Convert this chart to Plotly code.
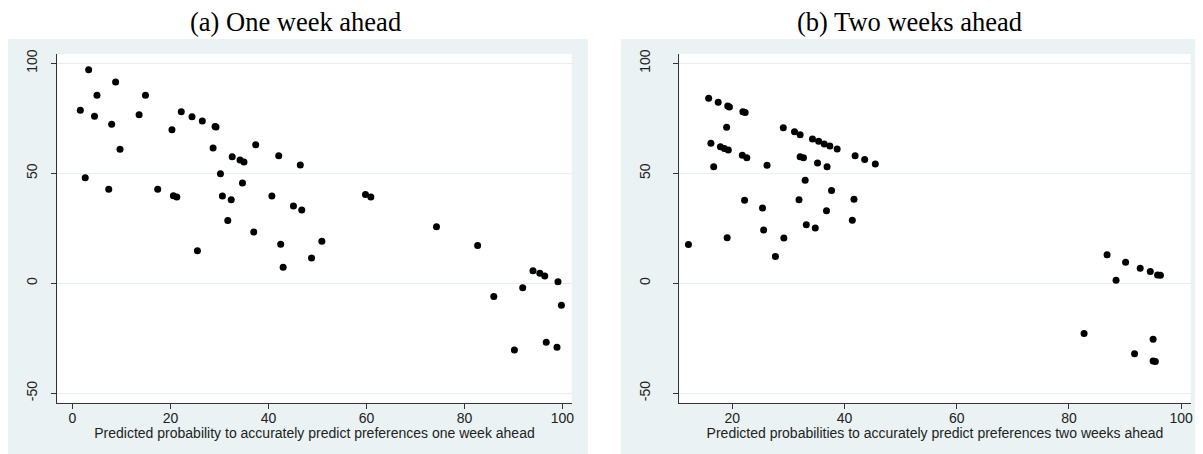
import plotly.graph_objects as go

# ---- data ----
one_week_prob = [1.6, 3.3, 5.0, 4.5, 2.6, 8.8, 8.0, 9.7, 7.4, 14.9, 13.6, 17.4, 20.3, 20.6, 21.3,
                 22.2, 24.4, 26.5, 25.5, 29.1, 29.3, 28.7, 30.2, 30.6, 31.7, 32.4, 32.6, 34.2, 35.0,
                 34.7, 37.4, 37.0, 40.7, 42.1, 42.5, 43.0, 45.1, 46.8, 46.5, 48.8, 50.9, 59.8, 60.9,
                 74.3, 82.7, 94.0, 95.4, 96.4, 99.1, 91.9, 86.0, 99.8, 96.7, 90.2, 98.9]
one_week_val = [78.6, 97.0, 85.5, 75.9, 47.9, 91.5, 72.3, 60.9, 42.7, 85.5, 76.6, 42.7, 69.8, 39.8, 39.2,
                77.9, 75.7, 73.8, 14.8, 71.2, 71.0, 61.5, 49.8, 39.7, 28.5, 37.9, 57.5, 56.0, 55.1,
                45.6, 62.9, 23.3, 39.7, 58.0, 17.7, 7.3, 35.1, 33.3, 53.8, 11.5, 19.1, 40.3, 39.2,
                25.7, 17.1, 5.7, 4.5, 3.3, 0.7, -2.1, -6.0, -10.0, -26.8, -30.3, -29.1]

two_week_prob = [12.2, 15.8, 17.5, 19.2, 19.5, 21.9, 22.3, 19.0, 16.2, 17.9, 18.6, 19.3, 16.7, 21.8, 22.6,
                 26.2, 22.2, 19.1, 25.4, 25.6, 27.7, 29.2, 29.1, 31.1, 32.1, 32.1, 32.7, 31.9, 33.0,
                 33.2, 34.8, 34.3, 35.4, 36.4, 37.4, 38.7, 35.2, 36.9, 37.7, 36.8, 41.9, 43.6, 45.5,
                 41.7, 41.4, 86.8, 90.1, 92.7, 94.5, 95.8, 96.3, 88.4, 82.7, 95.0, 91.7, 95.0, 95.4]
two_week_val = [17.6, 84.1, 82.3, 80.6, 80.1, 77.9, 77.6, 70.9, 63.6, 62.0, 61.2, 60.6, 53.0, 58.2, 57.0,
                53.6, 37.7, 20.7, 34.2, 24.2, 12.1, 20.6, 70.7, 68.9, 67.5, 57.5, 57.0, 37.9, 46.8,
                26.6, 25.1, 65.6, 64.5, 63.3, 62.4, 61.0, 54.7, 52.9, 42.1, 32.9, 58.0, 56.2, 54.2,
                38.2, 28.6, 12.9, 9.5, 6.8, 5.3, 3.8, 3.6, 1.4, -22.9, -25.5, -32.1, -35.3, -35.6]

panel_titles = ["(a) One week ahead", "(b) Two weeks ahead"]
x_titles = ["Predicted probability to accurately predict preferences one week ahead",
            "Predicted probabilities to accurately predict preferences two weeks ahead"]
x_ticks_left = [0, 20, 40, 60, 80, 100]
x_ticks_right = [20, 40, 60, 80, 100]
y_ticks = [-50, 0, 50, 100]
y_tick_labels = ["-50", "0", "50", "100"]

# ---- layout geometry (page body has an 8px margin) ----
OFF = 8
W, H = 1203 - OFF, 454 - OFF
BG = "#EAF2F3"
GRID = "#E6EEF0"
AX = "#333333"

def px_x(p):
    return (p - OFF) / W

def px_y(p):
    return 1 - (p - OFF) / H

fig = go.Figure()
fig.add_trace(go.Scatter(x=one_week_prob, y=one_week_val, mode="markers",
                         marker=dict(color="black", size=7), xaxis="x", yaxis="y",
                         showlegend=False))
fig.add_trace(go.Scatter(x=two_week_prob, y=two_week_val, mode="markers",
                         marker=dict(color="black", size=7), xaxis="x2", yaxis="y2",
                         showlegend=False))

tick_font = dict(family="Liberation Sans, Arial, sans-serif", size=14, color="#222222")

common_x = dict(showgrid=False, zeroline=False, showline=True, linecolor=AX, linewidth=1,
                ticks="outside", ticklen=5, tickcolor=AX, tickfont=tick_font,
                ticklabelstandoff=-3, automargin=False)
common_y = dict(showgrid=True, gridcolor=GRID, gridwidth=1, zeroline=False, showline=True,
                linecolor=AX, linewidth=1, ticks="outside", ticklen=5, tickcolor=AX,
                tickfont=tick_font, tickangle=-90, tickvals=y_ticks, ticktext=y_tick_labels,
                range=[-54.3, 104.2], automargin=False)

ydom = [px_y(402.7), px_y(54)]
L1, R1 = 57.3, 571.7
L2, R2 = 679.3, 1190.7

fig.update_layout(
    width=W, height=H, margin=dict(l=0, r=0, t=0, b=0),
    paper_bgcolor="white", plot_bgcolor="white",
    xaxis=dict(domain=[px_x(L1), px_x(R1)], range=[-3.1, 101.9], tickvals=x_ticks_left,
               anchor="y", title=dict(text=x_titles[0], font=tick_font, standoff=1), **common_x),
    yaxis=dict(domain=ydom, anchor="x", ticklabelstandoff=9, **common_y),
    xaxis2=dict(domain=[px_x(L2), px_x(R2)], range=[10.57, 101.7], tickvals=x_ticks_right,
                anchor="y2", title=dict(text=x_titles[1], font=tick_font, standoff=1), **common_x),
    yaxis2=dict(domain=ydom, anchor="x2", ticklabelstandoff=18, **common_y),
    shapes=[
        dict(type="rect", xref="paper", yref="paper", x0=px_x(8), x1=px_x(588),
             y0=0, y1=px_y(39), fillcolor=BG, line=dict(width=0), layer="below"),
        dict(type="rect", xref="paper", yref="paper", x0=px_x(621), x1=px_x(1197),
             y0=0, y1=px_y(39), fillcolor=BG, line=dict(width=0), layer="below"),
        dict(type="rect", xref="paper", yref="paper", x0=px_x(L1), x1=px_x(R1),
             y0=ydom[0], y1=ydom[1], fillcolor="white", line=dict(width=0), layer="below"),
        dict(type="rect", xref="paper", yref="paper", x0=px_x(L2), x1=px_x(R2),
             y0=ydom[0], y1=ydom[1], fillcolor="white", line=dict(width=0), layer="below"),
    ],
    annotations=[
        dict(text=panel_titles[0], xref="paper", yref="paper", x=px_x(295), y=px_y(22),
             xanchor="center", yanchor="middle", showarrow=False,
             font=dict(family="Liberation Serif, Times New Roman, serif", size=26.5, color="black")),
        dict(text=panel_titles[1], xref="paper", yref="paper", x=px_x(909), y=px_y(22),
             xanchor="center", yanchor="middle", showarrow=False,
             font=dict(family="Liberation Serif, Times New Roman, serif", size=26.5, color="black")),
    ],
)

fig.write_html("out.html")
